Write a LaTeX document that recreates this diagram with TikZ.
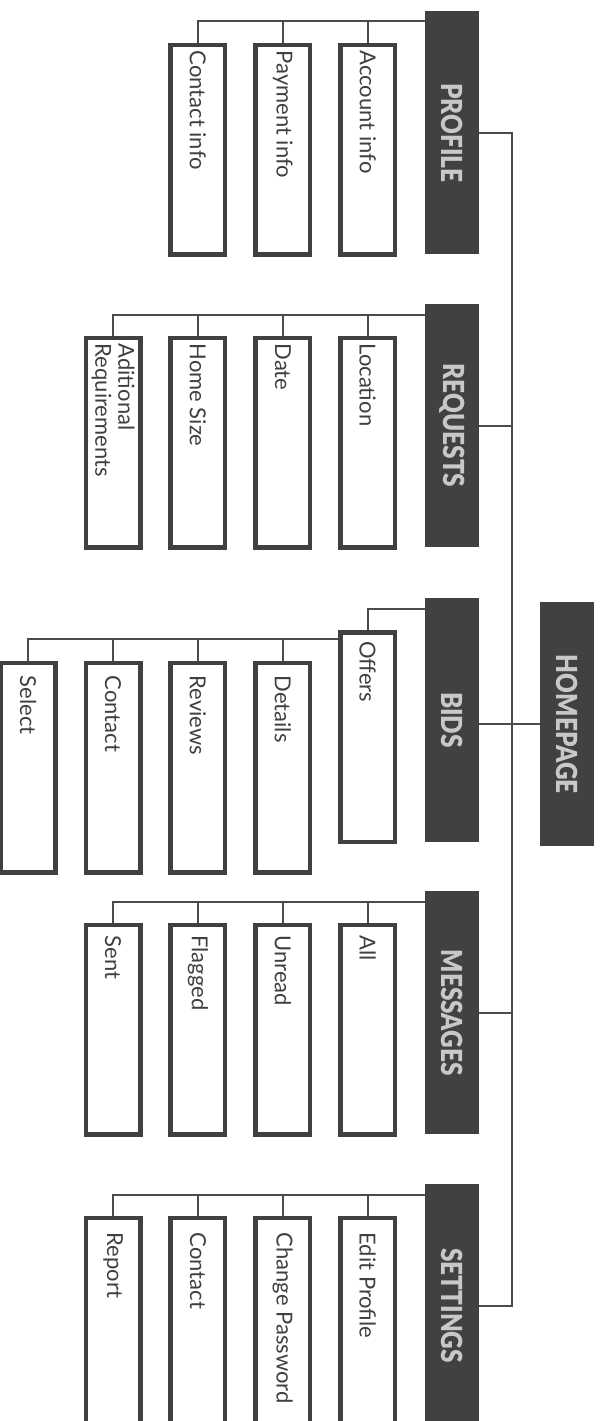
\documentclass[tikz,border=0pt]{standalone}
\usepackage{fontspec}
\usepackage[copies]{contour}
\setmainfont{Lato}
\contourlength{0.9pt}
\definecolor{headbg}{RGB}{65,64,66}
\definecolor{headtext}{RGB}{200,200,202}
\definecolor{leafborder}{RGB}{64,64,65}
\definecolor{linkcol}{RGB}{75,75,77}
\IfFontExistsTF{Lato Black}
  {\newfontfamily\headfont[FakeStretch=0.84]{Lato Black}
   \newcommand{\heavy}[1]{#1}}
  {\newfontfamily\headfont[FakeStretch=0.84]{Lato}
   \newcommand{\heavy}[1]{\contour{headtext}{#1}}}
\usetikzlibrary{positioning, calc}

% rotated labels (text runs downwards)
\newcommand{\leaflbl}[2][198pt]{\rotatebox{-90}{\parbox{#1}{\raggedright #2}}}
\newcommand{\headlbl}[1]{\rotatebox{-90}{\heavy{#1}}}

\begin{document}
\begin{tikzpicture}[
                        x=1pt, y=-1pt,
                        font=\fontsize{22}{23}\selectfont,
                        head/.style={
                                rectangle, fill=headbg, text=headtext,
                                minimum width=54pt, minimum height=243.4pt,
                                inner sep=0pt,
                                font=\fontsize{29}{29}\selectfont\headfont
                            },
                        leaf/.style={
                                rectangle, draw=leafborder, line width=4.5pt,
                                fill=white, text=leafborder,
                                minimum width=54.5pt, minimum height=209.5pt,
                                inner sep=0pt
                            },
                        link/.style={draw=linkcol, line width=2pt}
                    ]
                    \useasboundingbox (0,0) rectangle (601,1421);

                    % ===== Main sections =====
                    \node[head] (profile) at (452,132.7) {\headlbl{PROFILE}};
                    \node[head] (requests) at (452,425.7) {\headlbl{REQUESTS}};
                    \node[head] (bids) at (452,720) {\headlbl{BIDS}};
                    \node[head] (messages) at (452,1012.7) {\headlbl{MESSAGES}};
                    \node[head] (settings) at (452,1305.7) {\headlbl{SETTINGS}};
                    \node[head, minimum height=243.7pt] (home) at (567,724.2) {\headlbl{HOMEPAGE}};

                    % ===== Profile =====
                    \node[leaf] (paccount) at (367.7,149.7) {\leaflbl{Account info}};
                    \node[leaf] (ppayment) at (282.8,149.7) {\leaflbl{Payment info}};
                    \node[leaf] (pcontact) at (197.9,149.7) {\leaflbl{Contact info}};

                    % ===== Requests =====
                    \node[leaf] (rlocation) at (367.7,442.7) {\leaflbl{Location}};
                    \node[leaf] (rdate) at (282.8,442.7) {\leaflbl{Date}};
                    \node[leaf] (rsize) at (197.9,442.7) {\leaflbl{Home Size}};
                    \node[leaf] (rextra) at (113,442.7) {\leaflbl{Aditional\\Requirements}};

                    % ===== Bids =====
                    \node[leaf] (boffers) at (367.7,737) {\leaflbl[191.6pt]{Offers}};
                    \node[leaf] (bdetails) at (282.8,767.7) {\leaflbl[184pt]{Details}};
                    \node[leaf] (breviews) at (197.9,767.7) {\leaflbl[184pt]{Reviews}};
                    \node[leaf] (bcontact) at (113,767.7) {\leaflbl[184pt]{Contact}};
                    \node[leaf] (bselect) at (28.1,767.7) {\leaflbl[184pt]{Select}};

                    % ===== Messages =====
                    \node[leaf] (mall) at (367.7,1029.7) {\leaflbl[188.4pt]{All}};
                    \node[leaf] (munread) at (282.8,1029.7) {\leaflbl[188.4pt]{Unread}};
                    \node[leaf] (mflagged) at (197.9,1029.7) {\leaflbl[188.4pt]{Flagged}};
                    \node[leaf] (msent) at (113,1029.7) {\leaflbl[188.4pt]{Sent}};

                    % ===== Settings =====
                    \node[leaf] (sedit) at (367.7,1322.7) {\leaflbl[180pt]{Edit Profile}};
                    \node[leaf] (spass) at (282.8,1322.7) {\leaflbl[180pt]{Change Password}};
                    \node[leaf] (scontact) at (197.9,1322.7) {\leaflbl[180pt]{Contact}};
                    \node[leaf] (sreport) at (113,1322.7) {\leaflbl[180pt]{Report}};

                    % ===== Bus coordinates =====
                    \coordinate (pbus) at ($(profile.north west)+(0,10.7)$);
                    \coordinate (rbus) at ($(requests.north west)+(0,10.7)$);
                    \coordinate (bbus) at ($(bids.north west)+(0,10.7)$);
                    \coordinate (obus) at ($(boffers.north west)+(0,9.3)$);
                    \coordinate (mbus) at ($(messages.north west)+(0,10.7)$);
                    \coordinate (sbus) at ($(settings.north west)+(0,10.7)$);
                    \coordinate (spine) at (512.3,0);

                    % ===== Connectors =====
                    % Homepage spine
                    \draw[link] (profile.east) -- (profile.east -| spine) -- (settings.east -| spine) -- (settings.east);
                    \draw[link] (requests.east) -- (requests.east -| spine);
                    \draw[link] (messages.east) -- (messages.east -| spine);
                    \draw[link] (home.west) -- (home.west -| bids.east);

                    % Profile
                    \draw[link] (pbus) -| (pcontact.north);
                    \draw[link] (paccount.north) -- (paccount.north |- pbus);
                    \draw[link] (ppayment.north) -- (ppayment.north |- pbus);

                    % Requests
                    \draw[link] (rbus) -| (rextra.north);
                    \draw[link] (rlocation.north) -- (rlocation.north |- rbus);
                    \draw[link] (rdate.north) -- (rdate.north |- rbus);
                    \draw[link] (rsize.north) -- (rsize.north |- rbus);

                    % Bids
                    \draw[link] (bbus) -| (boffers.north);
                    \draw[link] (obus) -| (bselect.north);
                    \draw[link] (bdetails.north) -- (bdetails.north |- obus);
                    \draw[link] (breviews.north) -- (breviews.north |- obus);
                    \draw[link] (bcontact.north) -- (bcontact.north |- obus);

                    % Messages
                    \draw[link] (mbus) -| (msent.north);
                    \draw[link] (mall.north) -- (mall.north |- mbus);
                    \draw[link] (munread.north) -- (munread.north |- mbus);
                    \draw[link] (mflagged.north) -- (mflagged.north |- mbus);

                    % Settings
                    \draw[link] (sbus) -| (sreport.north);
                    \draw[link] (sedit.north) -- (sedit.north |- sbus);
                    \draw[link] (spass.north) -- (spass.north |- sbus);
                    \draw[link] (scontact.north) -- (scontact.north |- sbus);

                \end{tikzpicture}
\end{document}
